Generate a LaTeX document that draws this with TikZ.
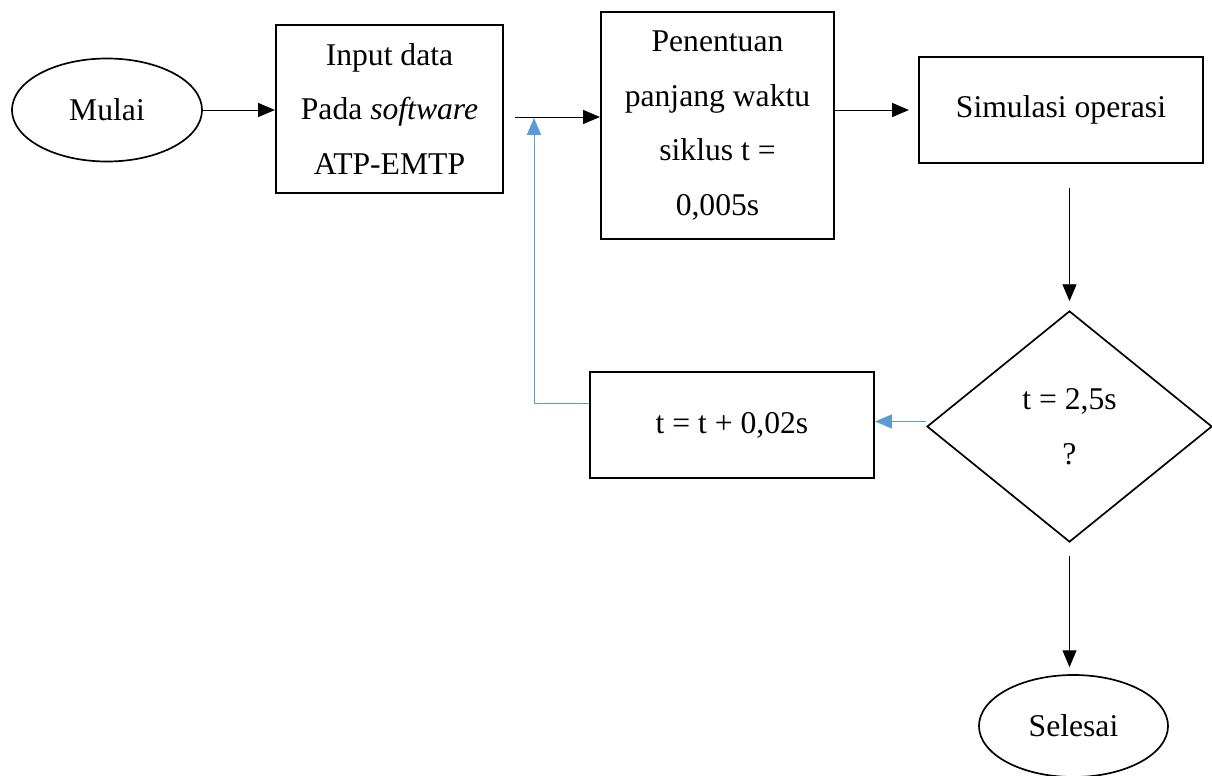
\documentclass[tikz,border=0pt]{standalone}
\usepackage{fontspec}
\setmainfont{Liberation Serif}
\usetikzlibrary{shapes.geometric,arrows.meta}
\definecolor{loopblue}{RGB}{91,155,213}
\tikzset{
  teks/.style={font=\fontsize{22.5}{39}\selectfont, align=center, inner sep=0pt},
  kotak/.style={teks, draw, rectangle, line width=1.5pt},
  oval/.style={teks, draw, ellipse, line width=1.2pt},
  belah/.style={teks, draw, diamond, line width=1.2pt},
  panah/.style={-{Triangle[length=12pt,width=10pt]}, line width=0.7pt},
  balik/.style={panah, draw=loopblue, -{Triangle[length=12pt,width=10pt,fill=loopblue]}}
}
\begin{document}
\begin{tikzpicture}[x=0.025cm, y=-0.025cm]
        \useasboundingbox (0,0) rectangle (1212,776);

        % Start and input
        \node[oval, minimum width=4.75cm, minimum height=2.575cm] (mulai) at (107,110) {Mulai};
        \node[kotak, minimum width=5.675cm, minimum height=4.2cm] (input) at (389.5,109) {Input data\\Pada \textit{software}\\ATP-EMTP};

        % Cycle length and simulation
        \node[kotak, minimum width=5.825cm, minimum height=5.675cm] (penentuan) at (717.5,125.5) {Penentuan\\panjang waktu\\siklus t =\\0,005s};
        \node[kotak, minimum width=7.1cm, minimum height=2.65cm] (simulasi) at (1061,110) {Simulasi operasi};

        % Decision and step
        \node[belah, minimum width=7.125cm, minimum height=5.775cm] (cek) at (1069.5,426.5) {t = 2,5s\\?};
        \node[kotak, minimum width=7.1cm, minimum height=2.65cm] (tambah) at (732,425) {t = t + 0,02s};

        % End
        \node[oval, minimum width=4.725cm, minimum height=2.55cm] (selesai) at (1073.5,726) {Selesai};

        % Junction points
        \coordinate (gabung) at (515,117);
        \coordinate (titik) at (534,118);

        % Main flow
        \draw[panah] (mulai) -- (mulai -| input.west);
        \draw[panah] (gabung) -- (gabung -| penentuan.west);
        \draw[panah, shorten >=0.225cm] (penentuan.east |- simulasi.west) -- (simulasi.west);
        \draw[panah, shorten <=0.6cm, shorten >=0.225cm] (cek.north |- simulasi.south) -- (cek.north);
        \draw[panah, shorten <=0.325cm, shorten >=0.175cm] (cek.south) -- (cek.south |- selesai.north);

        % Loop back
        \draw[balik] ([yshift=0.125cm]cek.west) -- ([yshift=0.125cm]cek.west -| tambah.east);
        \draw[balik] ([yshift=0.55cm]tambah.west) -| (titik);
    \end{tikzpicture}
\end{document}
